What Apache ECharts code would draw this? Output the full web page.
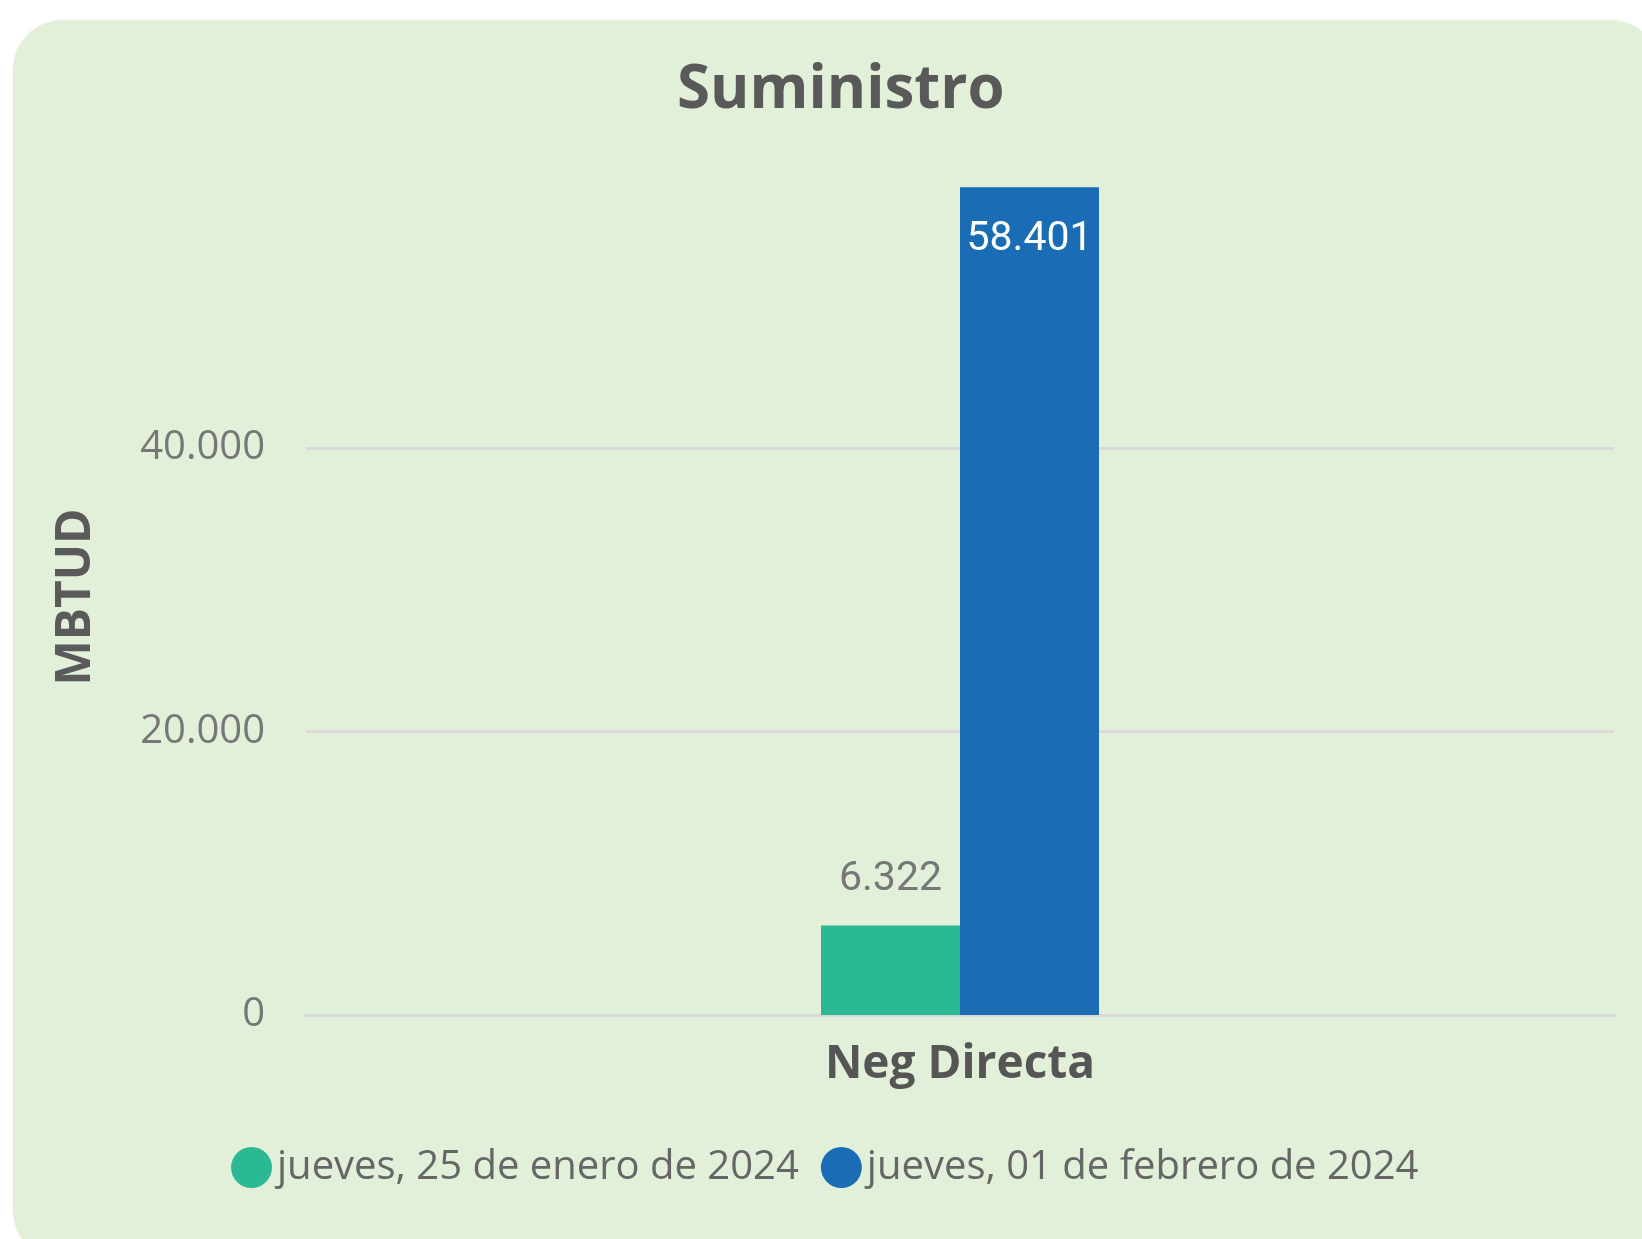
<!DOCTYPE html>
<html>
    <head>
        <meta charset="utf-8">
        <title>Suministro</title>
        <script src="https://cdn.jsdelivr.net/npm/echarts@6/dist/echarts.min.js"></script>
        <style>
            html, body { margin: 0; padding: 0; background: #ffffff; overflow: hidden; }
            #panel {
                position: absolute; left: 13px; top: 20px;
                width: 1647px; height: 1240px;
                background: #e2efd9; border-radius: 50px;
                box-shadow: 0 0 3px rgba(0,0,0,0.06);
            }
            #chart1 { position: absolute; left: 0; top: 0; width: 1642px; height: 1239px; }
        </style>
    </head>
    <body>
        <div id="panel"></div>
        <div id="chart1"></div>
        <script>
            // datos
            var categorias = ['Neg Directa'];
            var fechas = ['jueves, 25 de enero de 2024', 'jueves, 01 de febrero de 2024'];
            var valores25Ene = [6322];
            var valores01Feb = [58401];
            var ejeY = { min: 0, max: 60000, interval: 20000 };

            function miles(v) {
                return String(v).replace(/\B(?=(\d{3})+(?!\d))/g, '.');
            }

            var myChart1 = echarts.init(document.getElementById('chart1'));
            myChart1.setOption({
                backgroundColor: 'transparent',
                animation: false,
                title: {
                    text: 'Suministro',
                    left: 672,
                    top: 56,
                    textStyle: { fontFamily: 'Open Sans', fontWeight: 'bold', fontSize: 60, color: '#595959' }
                },
                legend: {
                    data: fechas,
                    left: 226,
                    top: 1142,
                    icon: 'circle',
                    itemWidth: 41,
                    itemHeight: 41,
                    itemGap: 22,
                    textStyle: { fontFamily: 'Open Sans', fontSize: 40, color: '#666666' }
                },
                grid: { left: 306, right: 28, top: 164.5, bottom: 224 },
                xAxis: {
                    type: 'category',
                    data: categorias,
                    axisTick: { show: false },
                    axisLine: { show: true, lineStyle: { color: '#d9d9d9', width: 3 } },
                    axisLabel: {
                        margin: 27,
                        fontFamily: 'Open Sans', fontWeight: 'bold', fontSize: 46, color: '#555555'
                    }
                },
                yAxis: {
                    type: 'value',
                    min: ejeY.min,
                    max: ejeY.max,
                    interval: ejeY.interval,
                    axisLine: { show: false },
                    axisTick: { show: false },
                    splitLine: { showMaxLine: false, lineStyle: { color: '#d9d9d9', width: 3 } },
                    axisLabel: {
                        showMaxLabel: false,
                        margin: 41,
                        formatter: miles,
                        fontFamily: 'Open Sans', fontSize: 40, color: '#777777'
                    }
                },
                graphic: [{
                    type: 'text',
                    x: 76,
                    y: 597,
                    rotation: Math.PI / 2,
                    style: {
                        text: 'MBTUD',
                        x: 0, y: 0,
                        align: 'center',
                        verticalAlign: 'middle',
                        font: 'bold 48px "Open Sans"',
                        fill: '#5a5a5a'
                    }
                }],
                series: [
                    {
                        name: fechas[0],
                        type: 'bar',
                        data: valores25Ene,
                        barWidth: 139,
                        barGap: '0%',
                        itemStyle: { color: '#2bb994' },
                        label: {
                            show: true,
                            position: 'top',
                            distance: 25,
                            formatter: function (p) { return miles(p.value); },
                            fontFamily: 'Roboto', fontSize: 41, color: '#777777'
                        }
                    },
                    {
                        name: fechas[1],
                        type: 'bar',
                        data: valores01Feb,
                        barWidth: 139,
                        barGap: '0%',
                        itemStyle: { color: '#1a6db5' },
                        label: {
                            show: true,
                            position: 'insideTop',
                            distance: 32,
                            formatter: function (p) { return miles(p.value); },
                            fontFamily: 'Roboto', fontSize: 41, color: '#ffffff'
                        }
                    }
                ]
            });
        </script>
    </body>
</html>
